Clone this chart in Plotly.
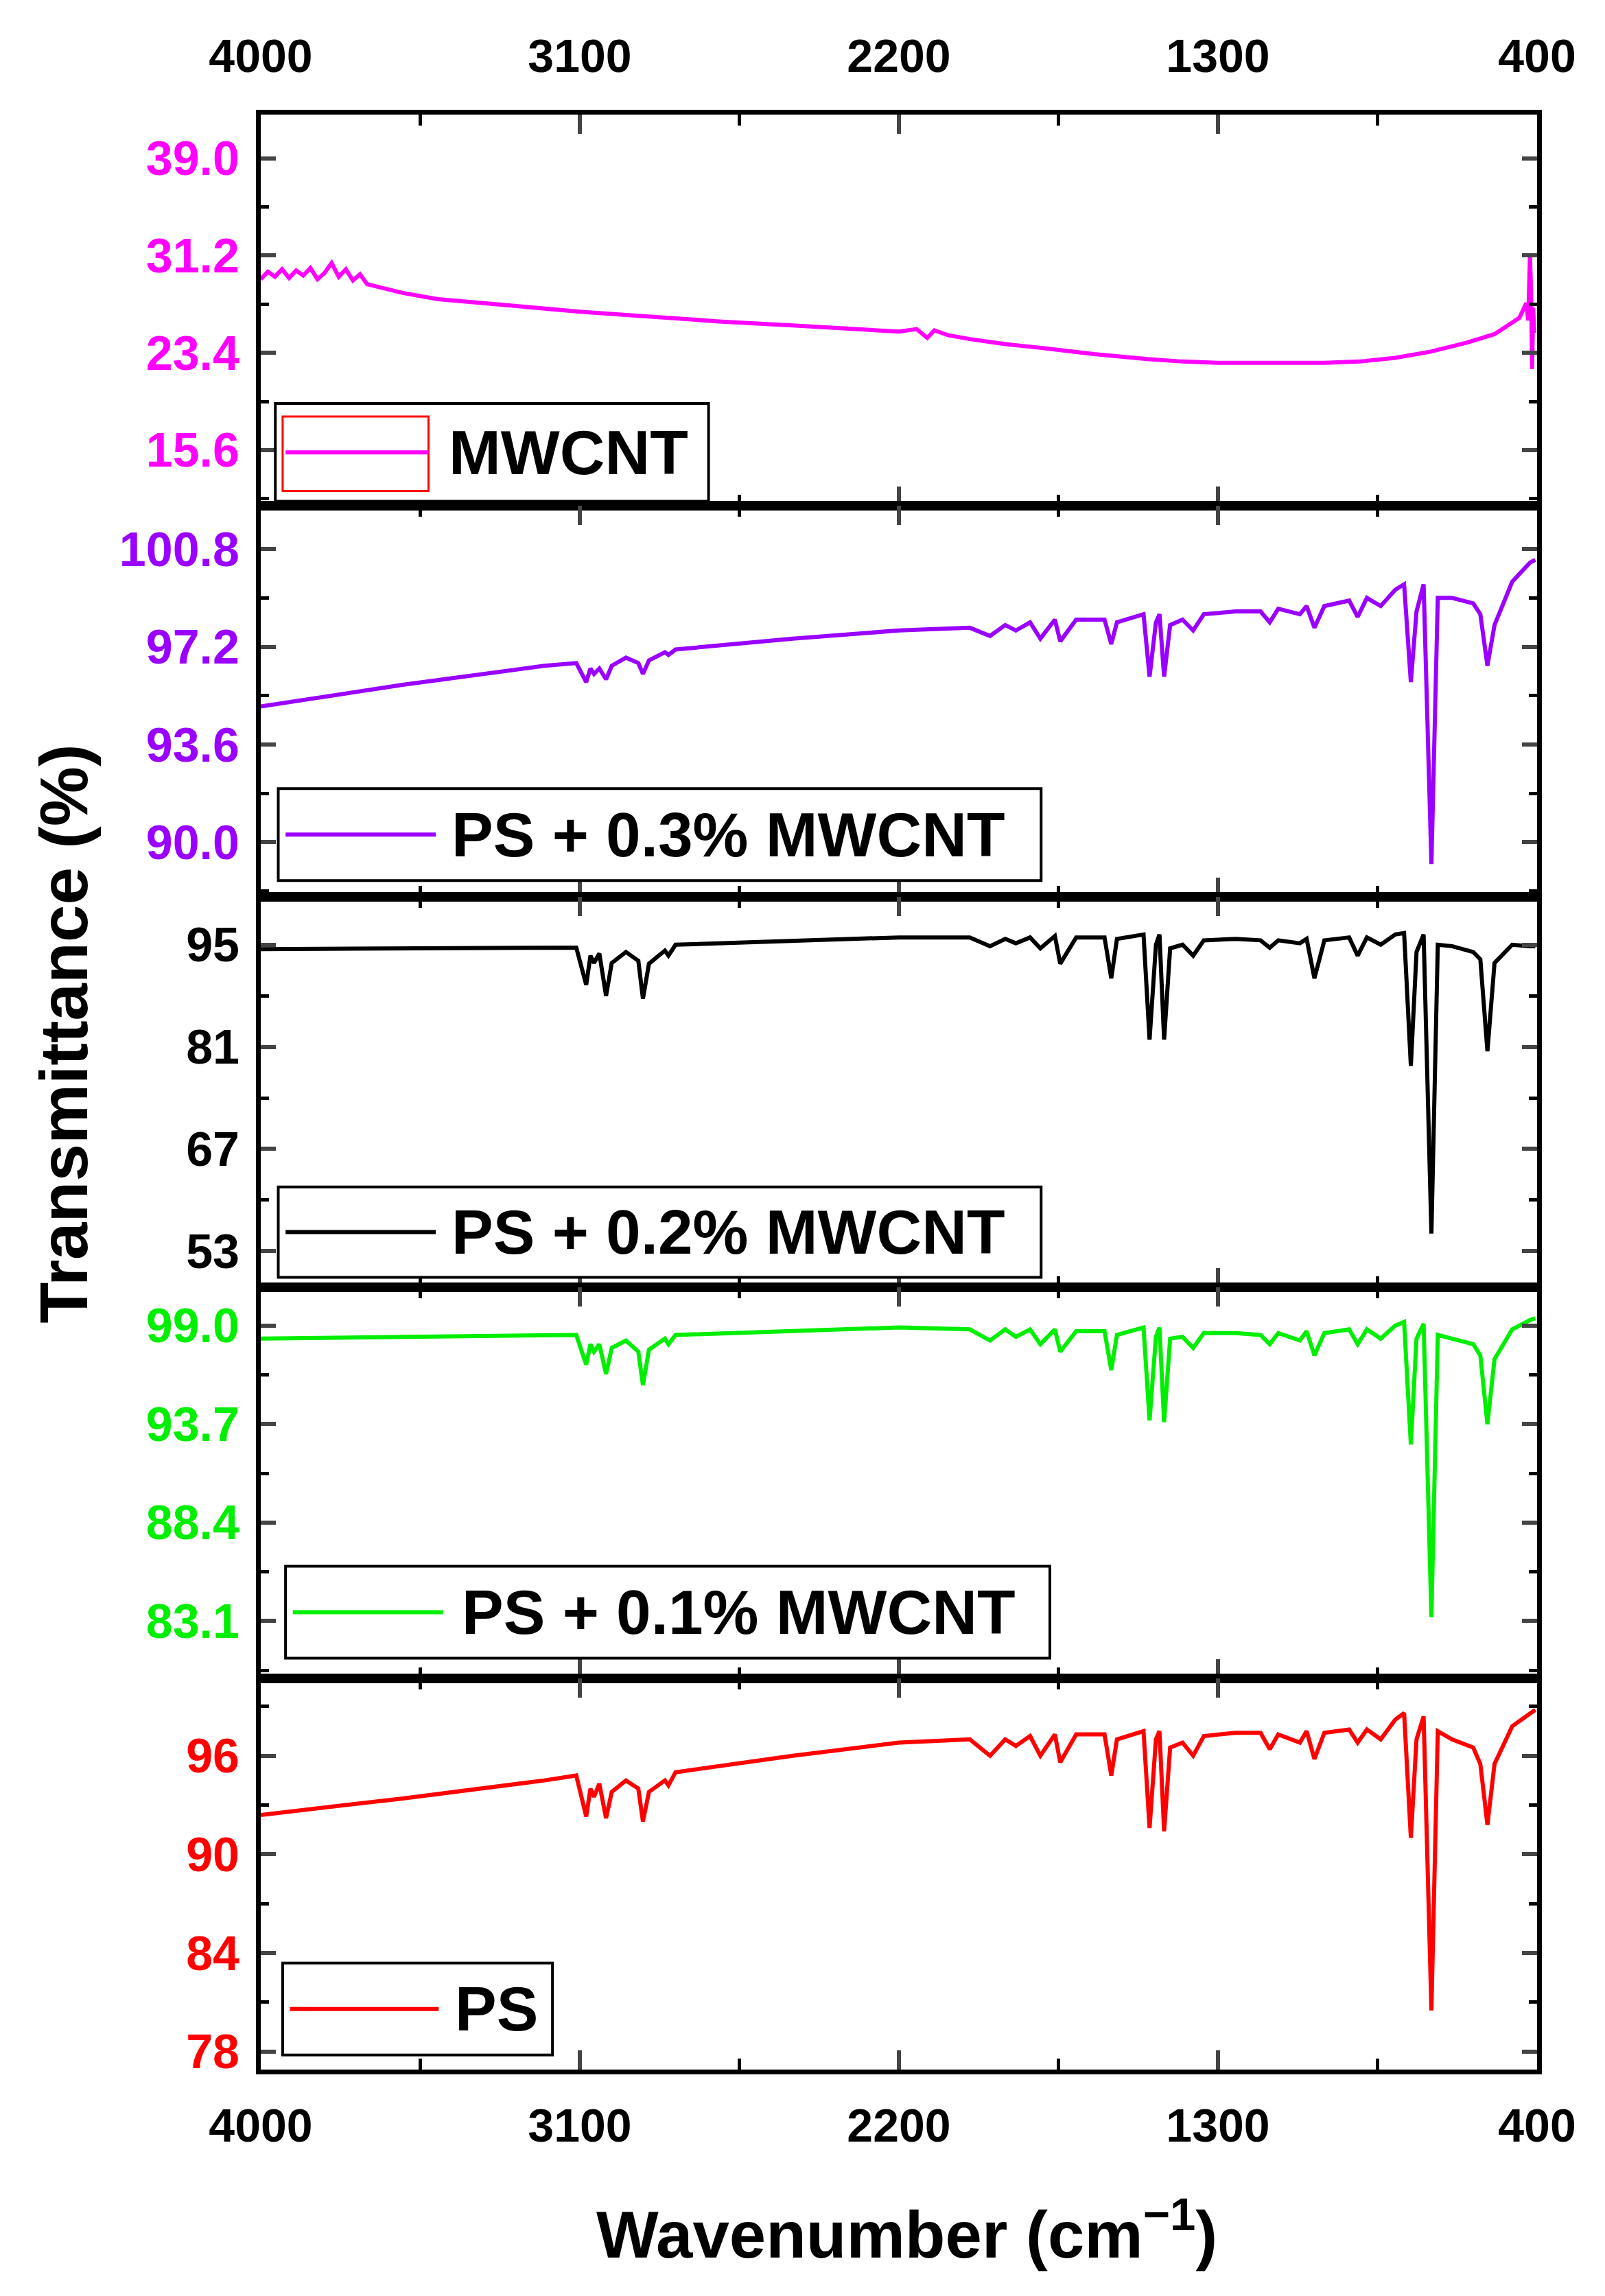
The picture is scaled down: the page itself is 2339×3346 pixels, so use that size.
import plotly.graph_objects as go
from plotly.subplots import make_subplots

# ---------------- data ----------------
wn = [4000,3600,3200,3110,3082,3070,3060,3045,3026,3010,2970,2935,2922,2905,2860,2850,2830,
      2500,2200,2000,1943,1900,1870,1830,1801,1760,1745,1700,1620,1601,1585,1510,1493,1475,
      1465,1452,1435,1400,1370,1340,1250,1180,1154,1130,1069,1050,1028,1000,930,906,880,841,
      800,775,756,740,720,698,680,640,580,560,540,520,470,420,405]

t_ps = [92.4,93.4,94.5,94.8,92.3,94.0,93.5,94.3,92.2,93.8,94.5,94.0,92.0,93.8,94.5,94.2,95.0,
        96.0,96.8,97.0,96.0,97.0,96.6,97.2,96.0,97.3,95.6,97.3,97.3,94.8,97.0,97.5,91.6,97.0,
        97.5,91.4,96.5,96.8,96.0,97.2,97.4,97.4,96.4,97.3,96.8,97.5,95.8,97.4,97.6,96.8,97.6,97.0,
        98.2,98.6,91.0,97.0,98.4,80.5,97.5,97.0,96.5,95.5,91.8,95.5,97.8,98.6,98.8]

t_01 = [98.3,98.4,98.5,98.5,96.9,98.0,97.6,98.0,96.4,97.8,98.2,97.6,95.8,97.7,98.3,98.0,98.5,
        98.7,98.9,98.8,98.2,98.8,98.4,98.8,98.0,98.8,97.6,98.7,98.7,96.6,98.5,98.9,93.9,98.4,
        98.9,93.8,98.3,98.4,97.8,98.6,98.6,98.5,98.0,98.6,98.2,98.7,97.4,98.6,98.8,98.0,98.8,98.3,
        99.0,99.2,92.6,98.3,99.1,83.3,98.5,98.3,98.0,97.4,93.7,97.2,98.8,99.3,99.4]

t_02 = [94.4,94.5,94.6,94.6,89.5,93.5,92.5,93.8,88.0,92.5,94.0,92.8,87.6,92.4,94.2,93.5,95.0,
        95.5,96.0,96.0,94.8,95.8,95.2,96.0,94.5,96.2,92.4,96.0,96.0,90.4,95.8,96.4,82.0,95.0,
        96.4,82.0,94.5,95.0,93.5,95.6,95.8,95.6,94.6,95.6,95.2,95.8,90.4,95.6,96.0,93.5,96.0,95.0,
        96.4,96.6,78.4,94.0,96.4,55.4,95.0,94.8,94.0,93.0,80.4,92.5,95.0,94.8,94.8]

t_03 = [95.0,95.8,96.5,96.6,95.9,96.4,96.2,96.4,96.0,96.5,96.8,96.6,96.2,96.7,97.0,96.9,97.1,
        97.5,97.8,97.9,97.6,98.0,97.8,98.1,97.5,98.2,97.4,98.2,98.2,97.3,98.1,98.4,96.1,98.1,
        98.4,96.1,98.0,98.2,97.8,98.4,98.5,98.5,98.1,98.6,98.4,98.7,97.9,98.7,98.9,98.3,99.0,98.7,
        99.3,99.5,95.9,98.5,99.5,89.2,99.0,99.0,98.8,98.4,96.5,98.0,99.6,100.3,100.4]

wn_cnt = [4000,3980,3960,3940,3920,3900,3880,3860,3840,3820,3800,3780,3760,3740,3720,3700,
          3600,3500,3300,3100,2900,2700,2500,2300,2200,2150,2120,2100,2060,2000,1900,1800,
          1650,1500,1400,1300,1150,1000,900,800,700,600,520,480,450,430,425,420,417,414,411,408]
t_cnt = [29.3,29.9,29.5,30.1,29.4,30.0,29.6,30.2,29.3,29.8,30.6,29.5,30.1,29.2,29.7,28.9,
         28.2,27.7,27.2,26.7,26.3,25.9,25.6,25.3,25.1,25.3,24.6,25.2,24.8,24.5,24.1,23.8,
         23.3,22.9,22.7,22.6,22.6,22.6,22.7,23.0,23.5,24.2,24.9,25.6,26.2,27.4,26.0,31.2,28.5,22.1,27.0,25.0]

tick_x = [4000, 3100, 2200, 1300, 400]

series = [
    ("MWCNT", wn_cnt, t_cnt, "#ff00ff", [39.0, 31.2, 23.4, 15.6], [11.15, 42.5]),
    ("PS + 0.3% MWCNT", wn, t_03, "#9900ff", [100.8, 97.2, 93.6, 90.0], [88.0, 102.4]),
    ("PS + 0.2% MWCNT", wn, t_02, "#000000", [95, 81, 67, 53], [48.0, 101.6]),
    ("PS + 0.1% MWCNT", wn, t_01, "#00ee00", [99.0, 93.7, 88.4, 83.1], [80.0, 101.05]),
    ("PS", wn, t_ps, "#ff0000", [96, 90, 84, 78], [76.9, 100.7]),
]

# ---------------- layout ----------------
W, H = 2339, 3346
S = 2.126  # display->actual scale for hand-measured positions
L, R = 175 * S, 1050 * S
T, B = 75 * S, 1415 * S

fig = make_subplots(rows=5, cols=1, shared_xaxes=True, vertical_spacing=0)
FONT = "Liberation Sans"

def px(xd):
    return (xd * S - L) / (R - L)

def py(yd):
    return 1 - (yd * S - T) / (B - T)

legend_boxes = [  # display coords: box x0,x1,y0,y1 ; line x0,x1 ; text x
    (185, 482, 273, 340, 192, 290, 303),
    (187, 710, 537, 600, 192, 295, 305),
    (187, 710, 810, 872, 192, 295, 305),
    (192, 716, 1070, 1133, 197, 300, 312),
    (190, 375, 1342, 1405, 195, 297, 307),
]

for i, (name, xs, ys, col, yt, yr) in enumerate(series):
    r = i + 1
    fig.add_trace(go.Scatter(x=xs, y=ys, mode="lines", line=dict(color=col, width=6),
                             name=name, showlegend=False), row=r, col=1)
    dt = abs(yt[0] - yt[1])
    fig.update_yaxes(row=r, col=1, range=yr, tickvals=yt, ticktext=[f"{v:.1f}" if isinstance(v, float) else str(v) for v in yt],
                     ticks="inside", ticklen=22, tickwidth=6, mirror="ticks", ticklabelstandoff=10,
                     showline=True, linewidth=7, linecolor="black", showgrid=False, zeroline=False,
                     tickfont=dict(family=FONT, size=70, color=col, weight="bold"),
                     minor=dict(tickvals=[yt[0] + dt / 2, yt[1] + dt / 2, yt[2] + dt / 2, yt[3] + dt / 2, yt[3] - dt / 2],
                                ticks="inside", ticklen=12, tickwidth=5, tickcolor="black"))
    fig.update_xaxes(row=r, col=1, range=[4000, 400], tickvals=tick_x,
                     ticks="inside", ticklen=28, tickwidth=6, mirror="ticks",
                     ticklabelstandoff=(28 if r == 1 else 16),
                     showline=True, linewidth=7, linecolor="black", showgrid=False, zeroline=False,
                     tickfont=dict(family=FONT, size=68, color="black", weight="bold"),
                     minor=dict(dtick=450, tick0=400, ticks="inside", ticklen=16, tickwidth=5, tickcolor="black"),
                     showticklabels=(r in (1, 5)), side=("top" if r == 1 else "bottom"))

    bx0, bx1, by0, by1, lx0, lx1, tx = legend_boxes[i]
    fig.add_shape(type="rect", xref="paper", yref="paper", x0=px(bx0), x1=px(bx1), y0=py(by1), y1=py(by0),
                  line=dict(color="black", width=4), fillcolor="white", layer="above")
    ym = py((by0 + by1) / 2)
    if i == 0:
        fig.add_shape(type="rect", xref="paper", yref="paper", x0=px(190), x1=px(290), y0=py(333), y1=py(282),
                      line=dict(color="red", width=3), layer="above")
    fig.add_shape(type="line", xref="paper", yref="paper", x0=px(lx0), x1=px(lx1), y0=ym, y1=ym,
                  line=dict(color=col, width=6), layer="above")
    fig.add_annotation(xref="paper", yref="paper", x=px(tx), y=ym, text=name, showarrow=False,
                       xanchor="left", yanchor="middle",
                       font=dict(family=FONT, size=91, color="black", weight="bold"))

fig.add_annotation(xref="paper", yref="paper", x=px(40), y=py(705), text="Transmittance (%)", textangle=-90,
                   showarrow=False, xanchor="center", yanchor="middle",
                   font=dict(family=FONT, size=98, color="black", weight="bold"))
fig.add_annotation(xref="paper", yref="paper", x=px(618), y=py(1525), text="Wavenumber (cm<sup>\u22121</sup>)",
                   showarrow=False, xanchor="center", yanchor="middle",
                   font=dict(family=FONT, size=96, color="black", weight="bold"))

fig.update_layout(width=W, height=H, plot_bgcolor="white", paper_bgcolor="white",
                  margin=dict(l=L, r=W - R, t=T, b=H - B), showlegend=False)
fig.write_html("out.html")
